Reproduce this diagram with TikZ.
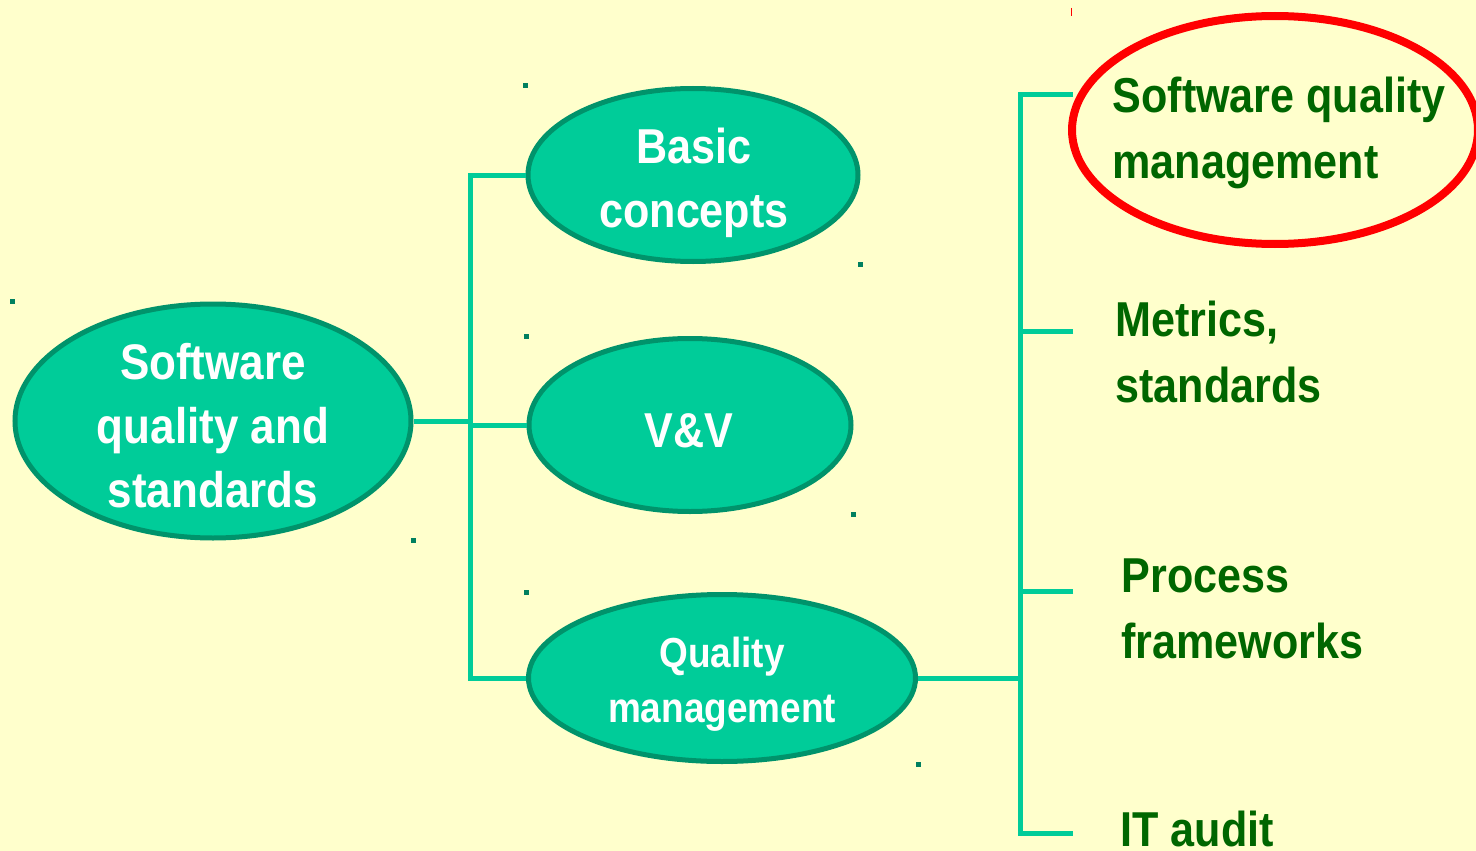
\documentclass[tikz,border=0pt]{standalone}
\usepackage{fontspec}
\setmainfont[FakeStretch=0.88]{Liberation Sans}
\usetikzlibrary{shapes.geometric}
\usetikzlibrary{calc}

\definecolor{paper}{HTML}{FFFFCC}
\definecolor{bubblefill}{HTML}{00CC99}
\definecolor{bubbleedge}{HTML}{00936B}
\definecolor{leafgreen}{HTML}{006600}
\definecolor{cornerdot}{HTML}{00805F}

\tikzset{
  bubble/.style={ellipse, draw=bubbleedge, fill=bubblefill, line width=5pt, inner sep=0pt},
  bubbletext/.style={text=white, align=center, anchor=base, font=\fontsize{49}{64}\selectfont\bfseries},
  leaf/.style={text=leafgreen, align=left, anchor=base west, font=\fontsize{49}{66}\selectfont\bfseries},
  link/.style={draw=bubblefill, line width=5pt},
  corner/.style={fill=cornerdot},
}

\begin{document}
\begin{tikzpicture}[x=1pt,y=-1pt]
\newcommand{\LeftBus}{470}
\newcommand{\RightBus}{1020}
\clip (0,0) rectangle (1476,851);
\fill[paper] (0,0) rectangle (1476,851);% Background

\node[bubble, minimum width=396pt, minimum height=234pt] (root) at (213,421) {};
\node[bubble, minimum width=330pt, minimum height=173pt] (bc) at (693,175) {};
\node[bubble, minimum width=322pt, minimum height=173pt] (vv) at (690,425) {};
\node[bubble, minimum width=387pt, minimum height=167pt] (qm) at (722,678) {};
\node[ellipse, draw=red, line width=8pt, inner sep=0pt, minimum width=406pt, minimum height=228pt] (ring) at (1275,130) {};

% base anchor sits on the last line
\node[bubbletext, font=\fontsize{50}{64}\selectfont\bfseries] (roottext) at (213,507) {Software\\quality and\\standards};
\node[bubbletext] (bctext) at (694,227) {Basic\\concepts};
\node[bubbletext] (vvtext) at (689,447) {V\&V};
\node[bubbletext, font=\fontsize{42}{55}\selectfont\bfseries] (qmtext) at (722,722) {Quality\\management};

\coordinate (lj) at (\LeftBus,421);
\draw[link] (root.east) -- (lj);% Root to bus
\draw[link] (bc.west) -| (lj) |- (qm.west);% Left bus
\draw[link] (vv.west) -- (vv.west -| lj);

\coordinate (rj) at (\RightBus,678);
\coordinate (t1) at (1073,95);
\coordinate (t2) at (1073,331);
\coordinate (t3) at (1073,591);
\coordinate (t4) at (1073,833);
\draw[link] (qm.east) -- (rj);% Quality management to bus
\draw[link] (t1) -| (t4 -| rj) -- (t4);% Right bus
\draw[link] (t2) -- (t2 -| rj);
\draw[link] (t3) -- (t3 -| rj);

\node[leaf] (sqm) at (1109,178) {Software quality\\management};
\node[leaf] (metrics) at (1112,402) {Metrics,\\standards};
\node[leaf] (process) at (1118,658) {Process\\frameworks};
\node[leaf] (audit) at (1117,846) {IT audit};

\foreach \n in {root,bc,vv,qm}{
  \fill[corner] (\n.west |- \n.north) +(-2.5,-2.5) rectangle +(2.5,2.5);
  \fill[corner] (\n.east |- \n.south) +(-2.5,-2.5) rectangle +(2.5,2.5);
}
\draw[red, line width=1pt] (1071,8) -- (1071,16);
\end{tikzpicture}
\end{document}
